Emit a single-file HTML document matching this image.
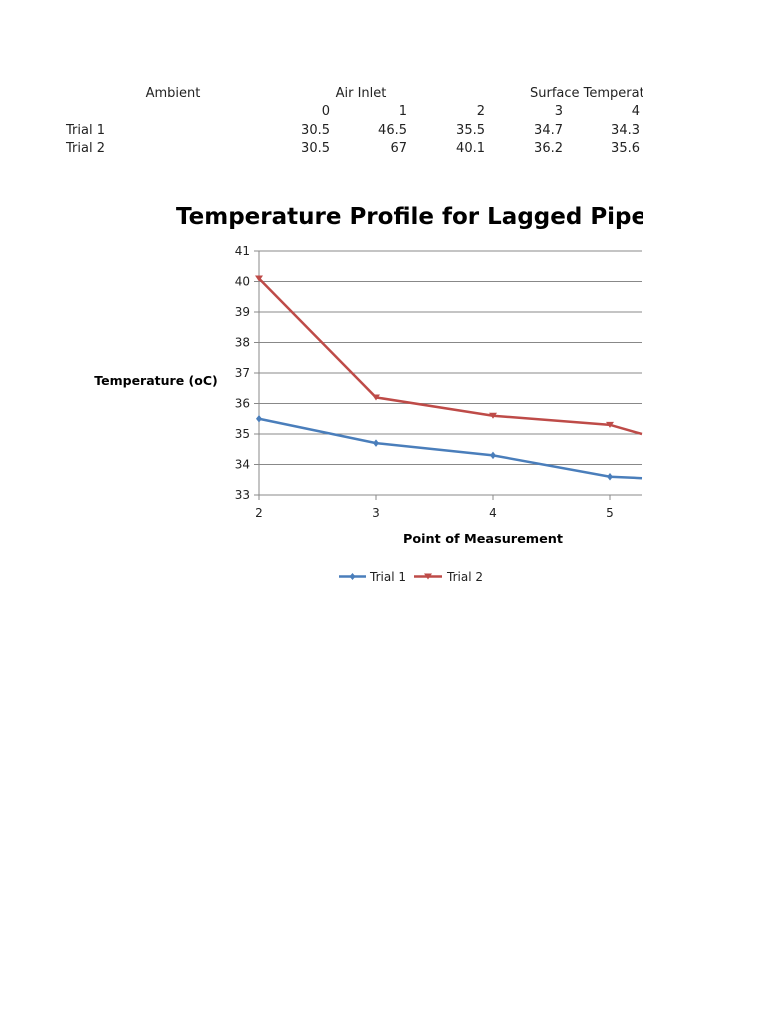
<!DOCTYPE html>
<html><head><style>
body{margin:0;background:#fff;width:768px;height:1024px;overflow:hidden;font-family:"DejaVu Sans","Liberation Sans",sans-serif;}
</style></head><body>
<svg width="768" height="1024" xmlns="http://www.w3.org/2000/svg" font-family="DejaVu Sans, Liberation Sans, sans-serif">
<defs><clipPath id="c"><rect x="0" y="0" width="643" height="1024"/></clipPath></defs>
<g font-size="13" fill="#222">
<text x="173" y="97" text-anchor="middle">Ambient</text>
<text x="361" y="97" text-anchor="middle">Air Inlet</text>
<g clip-path="url(#c)"><text x="530" y="97">Surface Temperature</text></g>
<g text-anchor="end">
<text x="330" y="115">0</text><text x="407" y="115">1</text><text x="485" y="115">2</text><text x="563" y="115">3</text><text x="640" y="115">4</text>
<text x="330" y="134">30.5</text><text x="407" y="134">46.5</text><text x="485" y="134">35.5</text><text x="563" y="134">34.7</text><text x="640" y="134">34.3</text>
<text x="330" y="152">30.5</text><text x="407" y="152">67</text><text x="485" y="152">40.1</text><text x="563" y="152">36.2</text><text x="640" y="152">35.6</text>
</g>
<text x="66" y="134">Trial 1</text><text x="66" y="152">Trial 2</text>
</g>
<g clip-path="url(#c)">
<text x="176" y="224" font-size="23" font-weight="bold" fill="#000">Temperature Profile for Lagged Pipe</text>
</g>
<g stroke="#888" stroke-width="1">
<line x1="259" y1="251" x2="642" y2="251"/><line x1="259" y1="281.5" x2="642" y2="281.5"/>
<line x1="259" y1="312" x2="642" y2="312"/><line x1="259" y1="342.5" x2="642" y2="342.5"/>
<line x1="259" y1="373" x2="642" y2="373"/><line x1="259" y1="403.5" x2="642" y2="403.5"/>
<line x1="259" y1="434" x2="642" y2="434"/><line x1="259" y1="464.5" x2="642" y2="464.5"/>
<line x1="259" y1="495" x2="642" y2="495"/>
<line x1="259" y1="251" x2="259" y2="495"/>
<g stroke-width="1">
<line x1="254" y1="251" x2="259" y2="251"/><line x1="254" y1="281.5" x2="259" y2="281.5"/><line x1="254" y1="312" x2="259" y2="312"/><line x1="254" y1="342.5" x2="259" y2="342.5"/><line x1="254" y1="373" x2="259" y2="373"/><line x1="254" y1="403.5" x2="259" y2="403.5"/><line x1="254" y1="434" x2="259" y2="434"/><line x1="254" y1="464.5" x2="259" y2="464.5"/><line x1="254" y1="495" x2="259" y2="495"/>
<line x1="259" y1="495" x2="259" y2="500"/><line x1="376" y1="495" x2="376" y2="500"/><line x1="493" y1="495" x2="493" y2="500"/><line x1="610" y1="495" x2="610" y2="500"/>
</g></g>
<g font-size="12" fill="#222" text-anchor="end">
<text x="250" y="255">41</text><text x="250" y="285.5">40</text><text x="250" y="316">39</text><text x="250" y="346.5">38</text><text x="250" y="377">37</text><text x="250" y="407.5">36</text><text x="250" y="438">35</text><text x="250" y="468.5">34</text><text x="250" y="499">33</text>
</g>
<g font-size="12" fill="#222" text-anchor="middle">
<text x="259" y="517">2</text><text x="376" y="517">3</text><text x="493" y="517">4</text><text x="610" y="517">5</text>
</g>
<text x="483" y="543" font-size="12.8" font-weight="bold" text-anchor="middle">Point of Measurement</text>
<text x="156" y="385" font-size="12.5" font-weight="bold" text-anchor="middle">Temperature (oC)</text>
<polyline points="259,418.75 376,443.15 493,455.35 610,476.7 642,478.2" fill="none" stroke="#4a7ebb" stroke-width="2.5"/>
<polyline points="259,278.45 376,397.4 493,415.7 610,424.85 642,434" fill="none" stroke="#be4b48" stroke-width="2.5"/>
<g fill="#4a7ebb">
<path d="M259,415 l3,3.75 -3,3.75 -3,-3.75z"/><path d="M376,439.4 l3,3.75 -3,3.75 -3,-3.75z"/><path d="M493,451.6 l3,3.75 -3,3.75 -3,-3.75z"/><path d="M610,473 l3,3.75 -3,3.75 -3,-3.75z"/>
</g>
<g fill="#be4b48">
<path d="M255,275.5 h8 l-4,6z"/><path d="M372,394.5 h8 l-4,6z"/><path d="M489,412.7 h8 l-4,6z"/><path d="M606,421.9 h8 l-4,6z"/>
</g>
<line x1="339" y1="576.5" x2="366" y2="576.5" stroke="#4a7ebb" stroke-width="2.5"/>
<path d="M352.5,573 l3,3.5 -3,3.5 -3,-3.5z" fill="#4a7ebb"/>
<text x="370" y="581" font-size="12" fill="#222">Trial 1</text>
<line x1="414" y1="576.5" x2="442" y2="576.5" stroke="#be4b48" stroke-width="2.5"/>
<path d="M424,573.5 h8 l-4,6z" fill="#be4b48"/>
<text x="447" y="581" font-size="12" fill="#222">Trial 2</text>
</svg>
</body></html>
